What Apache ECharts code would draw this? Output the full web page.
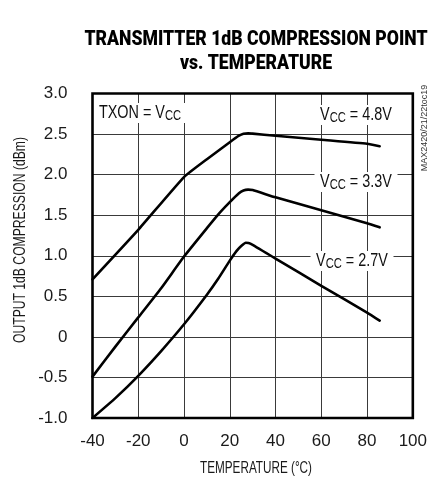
<!DOCTYPE html>
<html>
<head>
<meta charset="utf-8">
<script src="https://cdn.jsdelivr.net/npm/echarts@6/dist/echarts.min.js"></script>
<style>html,body{margin:0;padding:0;background:#fff}#c{width:430px;height:487px}</style>
</head>
<body>
<div id="c"></div>
<script>
// ---- data ----
const xTickLabels = ['-40', '-20', '0', '20', '40', '60', '80', '100'];
const yTickLabels = ['-1.0', '-0.5', '0', '0.5', '1.0', '1.5', '2.0', '2.5', '3.0'];

const temp48 = [-40, -20, 0, 10, 20, 24, 26, 28, 30, 40, 60, 80, 85.5];
const vcc48  = [0.71, 1.32, 1.97, 2.19, 2.40, 2.48, 2.505, 2.51, 2.505, 2.48, 2.43, 2.38, 2.35];

const temp33 = [-40, -30, -20, -10, 0, 10, 15, 20, 24, 26, 28, 30, 40, 60, 80, 85.5];
const vcc33  = [-0.49, -0.12, 0.24, 0.60, 0.99, 1.34, 1.51, 1.66, 1.77, 1.805, 1.815, 1.81, 1.72, 1.56, 1.40, 1.35];

const temp27 = [-40, -30, -20, -10, 0, 10, 15, 20, 23, 25, 27, 29, 40, 60, 80, 85.5];
const vcc27  = [-1.0, -0.755, -0.48, -0.175, 0.155, 0.52, 0.72, 0.94, 1.06, 1.12, 1.16, 1.15, 0.965, 0.63, 0.30, 0.20];

const xMin = -40, xMax = 100, xStep = 20;
const yMin = -1, yMax = 3, yStep = 0.5;

const FONT = "'Liberation Sans', Arial, sans-serif";
const TFONT = "Roboto, 'Liberation Sans', sans-serif";

const mctx = document.createElement('canvas').getContext('2d');
function fit(text, font, target) { mctx.font = font; return target / mctx.measureText(text).width; }

function pairs(xs, ys) { return xs.map((x, i) => [x, ys[i]]); }

function curve(name, xs, ys) {
  return {
    name, type: 'line', data: pairs(xs, ys), showSymbol: false, symbol: 'none',
    smooth: 0.15,
    lineStyle: { color: '#000', width: 2.6, join: 'round', cap: 'round' },
    z: 3, silent: true
  };
}

const labelRich = {
  a: { fontSize: 18, fontFamily: FONT, fill: '#111', lineHeight: 20 },
  s: { fontSize: 14, fontFamily: FONT, fill: '#111', lineHeight: 14, verticalAlign: 'bottom' }
};
function vccLabel(x, y, value) {
  return {
    type: 'text', x, y, z: 10, scaleX: 0.8,
    style: {
      text: '{a|V}{s|CC}{a| = ' + value + '}',
      align: 'center', verticalAlign: 'middle',
      backgroundColor: '#fff', padding: [0, 7, 0, 7],
      rich: labelRich
    }
  };
}

const titleLine1 = 'TRANSMITTER 1dB COMPRESSION POINT';
const titleFont = '900 20px ' + TFONT;
const titleScale = fit(titleLine1, titleFont, 343);
const yName = 'OUTPUT 1dB COMPRESSION (dBm)';
const yNameScale = fit(yName, '17px ' + FONT, 206);
const xName = 'TEMPERATURE (°C)';
const xNameScale = fit(xName, '17px ' + FONT, 112);

const chart = echarts.init(document.getElementById('c'), null, { renderer: 'canvas' });
chart.setOption({
  animation: false,
  backgroundColor: '#fff',
  grid: {
    left: 92.5, right: 11, top: 93.5, bottom: 69,
    show: true, borderColor: '#000', borderWidth: 2.6, z: 5
  },
  xAxis: {
    type: 'value', min: xMin, max: xMax, interval: xStep,
    axisLine: { show: false }, axisTick: { show: false },
    axisLabel: {
      margin: 15, fontFamily: FONT, fontSize: 17, color: '#1a1a1a',
      formatter: v => xTickLabels[Math.round((v - xMin) / xStep)]
    },
    splitLine: { show: true, lineStyle: { color: '#3a3a3a', width: 1 } }
  },
  yAxis: {
    type: 'value', min: yMin, max: yMax, interval: yStep,
    axisLine: { show: false }, axisTick: { show: false },
    axisLabel: {
      margin: 25, fontFamily: FONT, fontSize: 17, color: '#1a1a1a',
      formatter: v => yTickLabels[Math.round((v - yMin) / yStep)]
    },
    splitLine: { show: true, lineStyle: { color: '#3a3a3a', width: 1 } }
  },
  series: [
    curve('VCC = 4.8V', temp48, vcc48),
    curve('VCC = 3.3V', temp33, vcc33),
    curve('VCC = 2.7V', temp27, vcc27)
  ],
  graphic: [
    {
      type: 'text', x: 256, y: 52, z: 10, scaleX: titleScale,
      style: { text: titleLine1 + '\nvs. TEMPERATURE', align: 'center', verticalAlign: 'middle',
               fontFamily: TFONT, fontWeight: 900, fontSize: 20, lineHeight: 24, fill: '#000' }
    },
    {
      type: 'text', x: 20, y: 240, rotation: Math.PI / 2, z: 10, scaleX: yNameScale,
      style: { text: yName, align: 'center', verticalAlign: 'middle',
               fontFamily: FONT, fontSize: 17, fill: '#1a1a1a' }
    },
    {
      type: 'text', x: 256, y: 468, z: 10, scaleX: xNameScale,
      style: { text: xName, align: 'center', verticalAlign: 'middle',
               fontFamily: FONT, fontSize: 17, fill: '#1a1a1a' }
    },
    {
      type: 'text', x: 140, y: 113, z: 10, scaleX: 0.8,
      style: {
        text: '{a|TXON = V}{s|CC}', align: 'center', verticalAlign: 'middle',
        backgroundColor: '#fff', padding: [0, 6, 0, 6],
        rich: labelRich
      }
    },
    vccLabel(356, 115, '4.8V'),
    vccLabel(356, 182, '3.3V'),
    vccLabel(352, 261, '2.7V'),
    {
      type: 'text', x: 425, y: 128, rotation: Math.PI / 2, z: 10,
      style: { text: 'MAX2420/21/22toc19', align: 'center', verticalAlign: 'middle',
               fontFamily: FONT, fontSize: 9, fill: '#333' }
    }
  ]
});
</script>
</body>
</html>
